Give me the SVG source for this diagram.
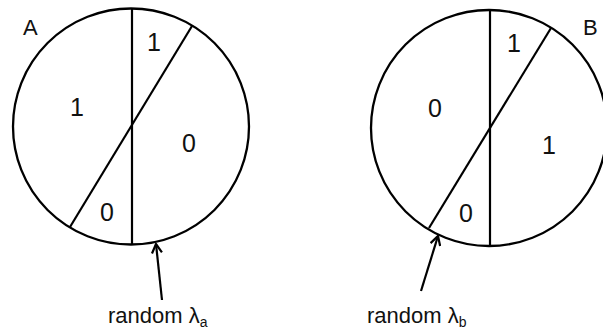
<svg xmlns="http://www.w3.org/2000/svg" width="603" height="333" viewBox="0 0 603 333">
<defs>
<style>
.c{fill:none;stroke:#000;stroke-width:2.3}
.l{stroke:#000;stroke-width:2.2;fill:none}
.t{font-family:"Liberation Sans",Arial,sans-serif;font-size:25px;fill:#111;text-anchor:middle}
.lab{font-family:"Liberation Sans",Arial,sans-serif;font-size:22px;fill:#111}
.s{font-size:14px}
</style>
<marker id="ah" viewBox="0 0 12 12" refX="11" refY="6" markerWidth="12" markerHeight="12" markerUnits="userSpaceOnUse" orient="auto">
<polyline points="2,1 11,6 2,11" fill="none" stroke="#000" stroke-width="2.2"/>
</marker>
</defs>
<rect width="603" height="333" fill="#fff"/>
<g id="circleA">
<circle class="c" cx="131" cy="126.5" r="118"/>
<line class="l" x1="132" y1="8.5" x2="132" y2="244.5"/>
<line class="l" x1="192" y1="26" x2="70" y2="227"/>
<text class="lab" x="23" y="35">A</text>
<text class="t" x="154" y="51">1</text>
<text class="t" x="77" y="116">1</text>
<text class="t" x="189" y="152">0</text>
<text class="t" x="107" y="221">0</text>
</g>
<g id="circleB">
<circle class="c" cx="489" cy="128" r="118"/>
<line class="l" x1="490" y1="10" x2="490" y2="246"/>
<line class="l" x1="551" y1="28" x2="429" y2="228"/>
<text class="lab" x="583" y="35">B</text>
<text class="t" x="514" y="52">1</text>
<text class="t" x="435" y="117">0</text>
<text class="t" x="549" y="154">1</text>
<text class="t" x="466" y="222">0</text>
</g>
<g id="connectors">
<line class="l" x1="162" y1="300" x2="156" y2="244" marker-end="url(#ah)"/>
<line class="l" x1="421" y1="291" x2="438" y2="236" marker-end="url(#ah)"/>
</g>
<g id="labelA">
<text class="lab" x="108" y="323">random λ<tspan class="s" dy="4">a</tspan></text>
</g>
<g id="labelB">
<text class="lab" x="367" y="323">random λ<tspan class="s" dy="4">b</tspan></text>
</g>
</svg>
